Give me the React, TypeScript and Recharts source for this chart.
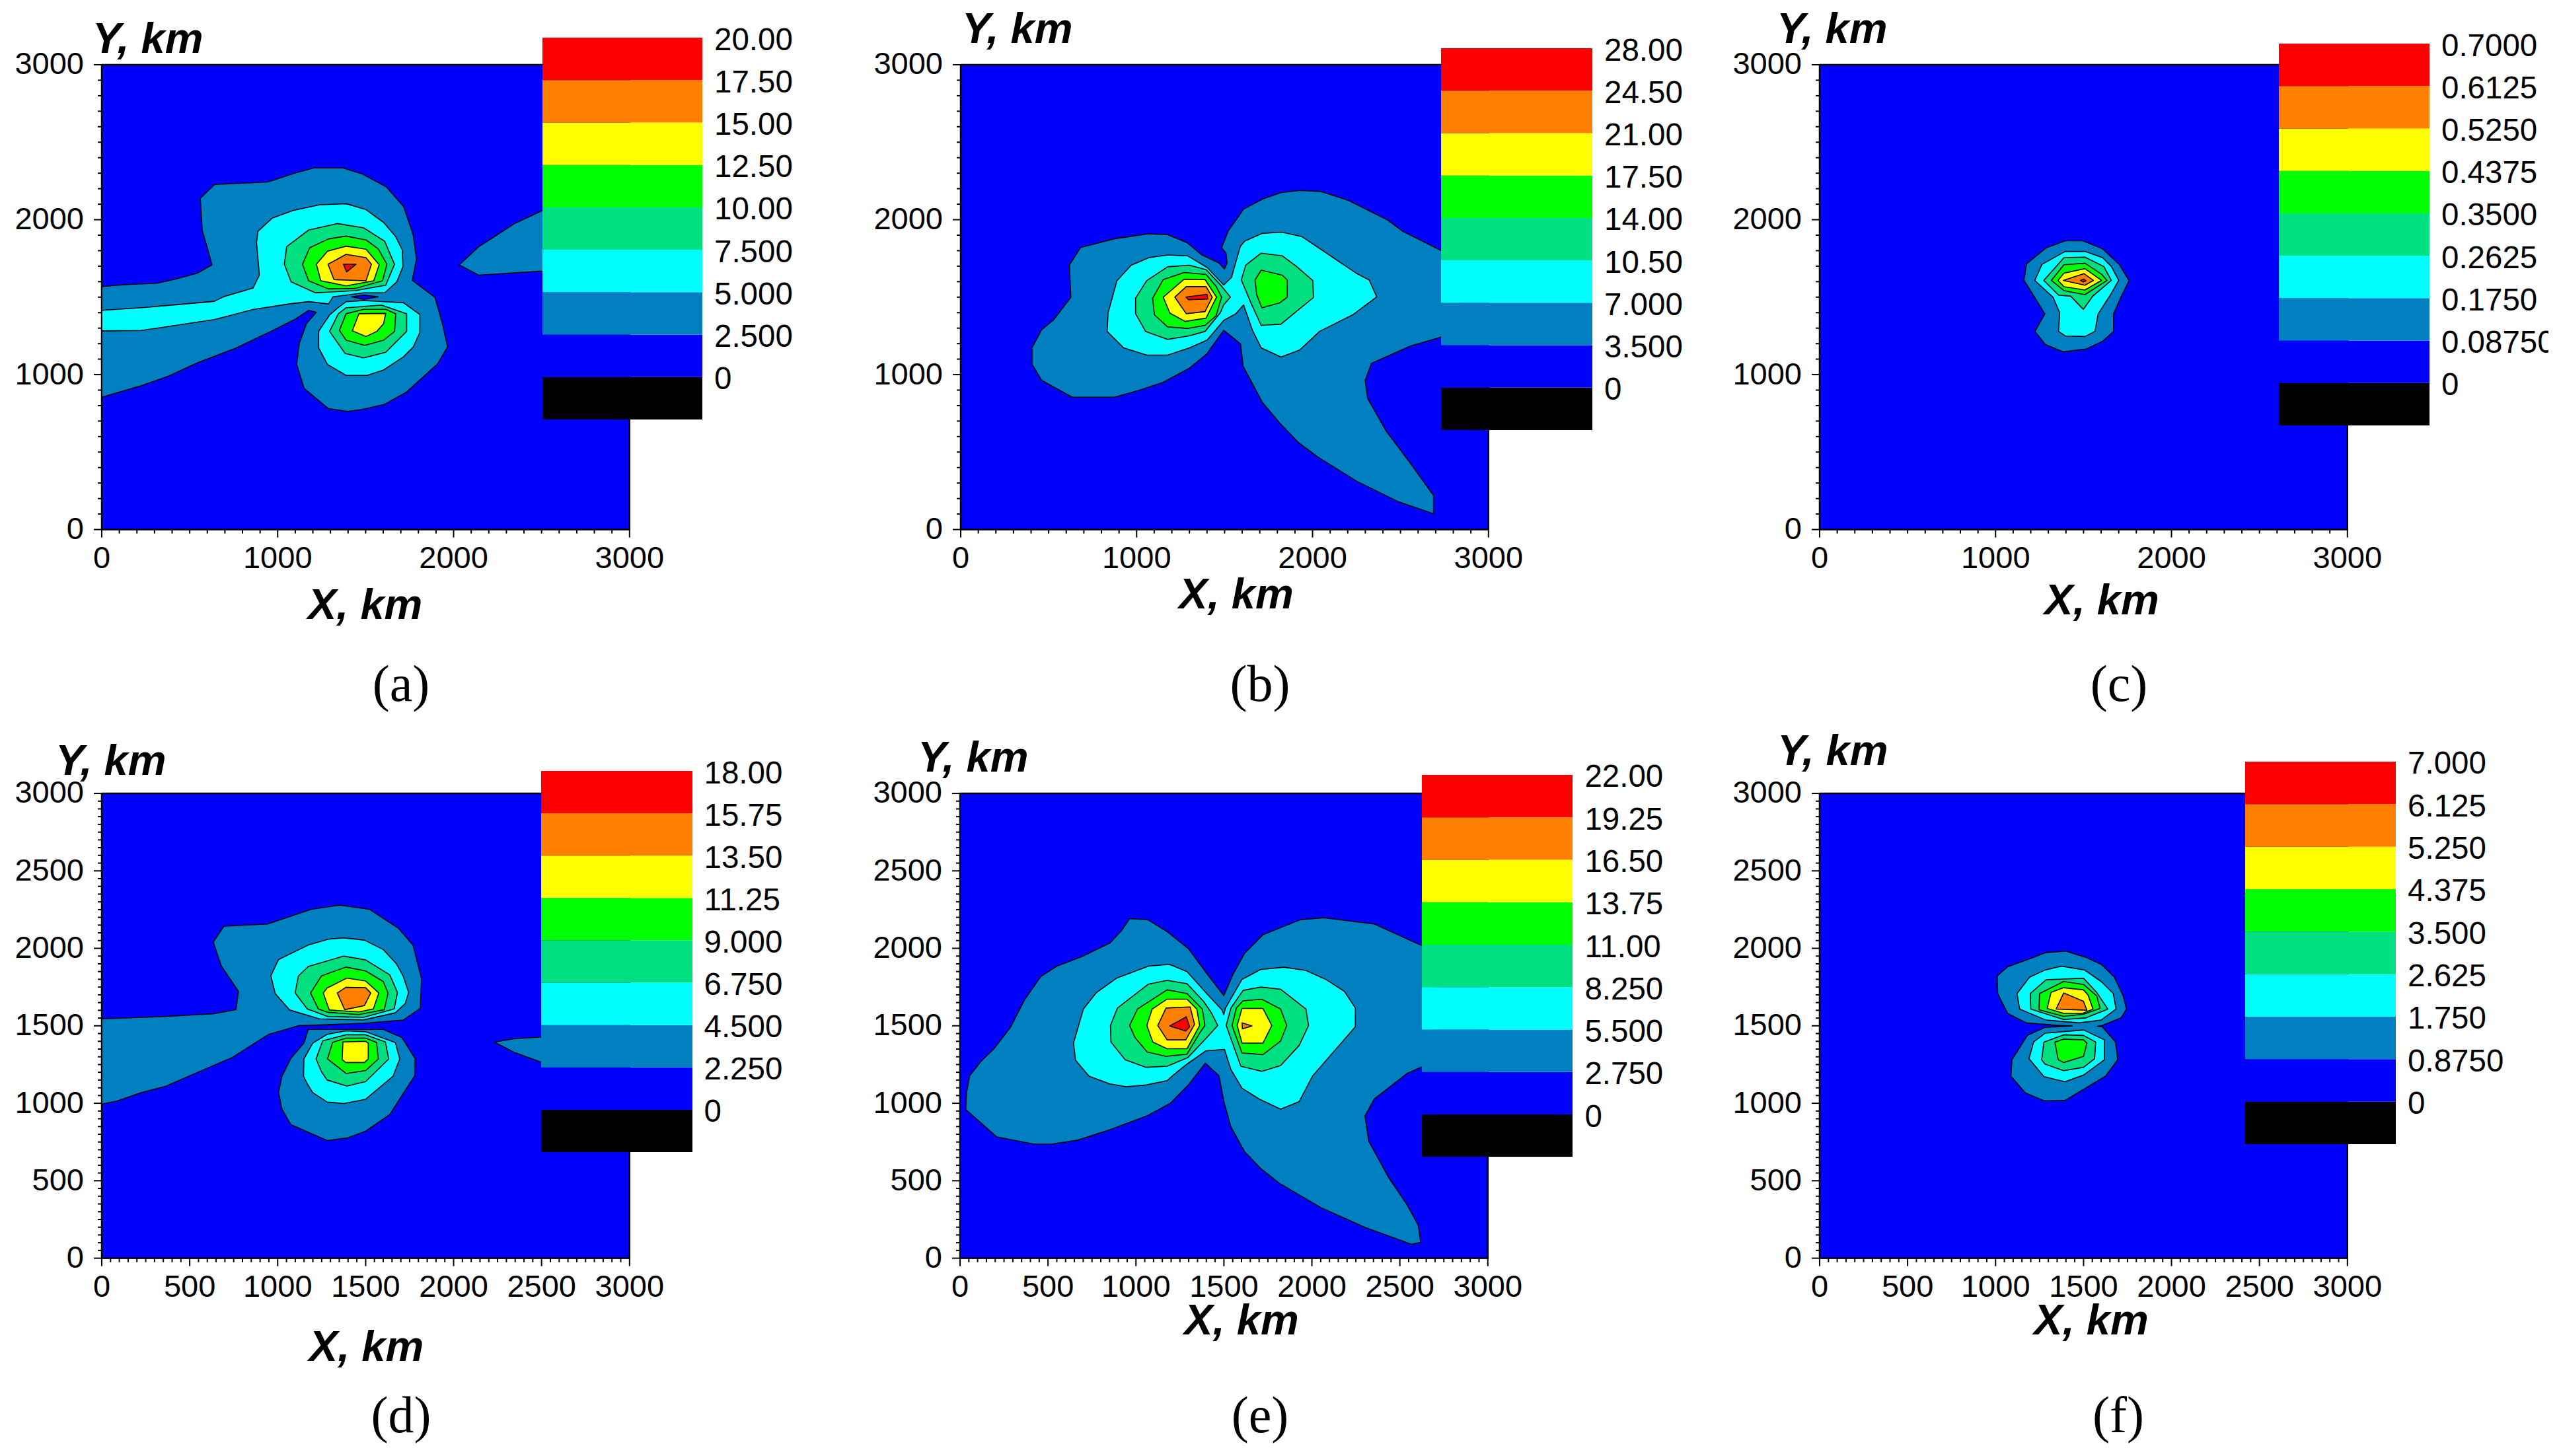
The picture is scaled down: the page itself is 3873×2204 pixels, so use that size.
import React from "react";
import { ScatterChart, Scatter, XAxis, YAxis, BarChart, Bar } from "recharts";

type Pt = [number, number];

const BAND_COLORS = ["#0000FF", "#0080C0", "#00FFFF", "#00E080", "#00FF00", "#FFFF00", "#FF8000", "#FF0000"];
const FONT = "'Liberation Sans', Arial, sans-serif";
const DOMAIN: Pt[] = [[0, 0], [3000, 0], [3000, 3000], [0, 3000]];

const TICKS_100 = Array.from({ length: 31 }, (_, i) => i * 100);
const TICKS_50 = Array.from({ length: 61 }, (_, i) => i * 50);
const MAJOR_1000 = [0, 1000, 2000, 3000];
const MAJOR_500 = [0, 500, 1000, 1500, 2000, 2500, 3000];

// colour scales
const aLevels = [0, 2.5, 5, 7.5, 10, 12.5, 15, 17.5, 20];
const aLabels = ["0", "2.500", "5.000", "7.500", "10.00", "12.50", "15.00", "17.50", "20.00"];
const bLevels = [0, 3.5, 7, 10.5, 14, 17.5, 21, 24.5, 28];
const bLabels = ["0", "3.500", "7.000", "10.50", "14.00", "17.50", "21.00", "24.50", "28.00"];
const cLevels = [0, 0.0875, 0.175, 0.2625, 0.35, 0.4375, 0.525, 0.6125, 0.7];
const cLabels = ["0", "0.08750", "0.1750", "0.2625", "0.3500", "0.4375", "0.5250", "0.6125", "0.7000"];
const dLevels = [0, 2.25, 4.5, 6.75, 9, 11.25, 13.5, 15.75, 18];
const dLabels = ["0", "2.250", "4.500", "6.750", "9.000", "11.25", "13.50", "15.75", "18.00"];
const eLevels = [0, 2.75, 5.5, 8.25, 11, 13.75, 16.5, 19.25, 22];
const eLabels = ["0", "2.750", "5.500", "8.250", "11.00", "13.75", "16.50", "19.25", "22.00"];
const fLevels = [0, 0.875, 1.75, 2.625, 3.5, 4.375, 5.25, 6.125, 7];
const fLabels = ["0", "0.8750", "1.750", "2.625", "3.500", "4.375", "5.250", "6.125", "7.000"];

// panel (a) contours, km
const aBand1: Pt[] = [[0,1569],[157,1582],[314,1590],[419,1616],[543,1655],[626,1708],[598,1825],[571,1930],[560,2138],[642,2227],[943,2243],[1095,2300],[1205,2334],[1370,2334],[1481,2295],[1618,2211],[1715,2086],[1770,1903],[1789,1747],[1765,1608],[1894,1499],[1936,1329],[1966,1180],[1908,1068],[1729,885],[1605,807],[1481,775],[1398,762],[1287,781],[1150,911],[1108,1068],[1122,1198],[1163,1329],[1219,1402],[1177,1415],[1095,1355],[957,1277],[764,1172],[543,1076],[378,990],[212,924],[0,854]];
const aBand1Right: Pt[] = [[2032,1708],[2142,1825],[2349,1977],[2506,2060],[2528,2060],[2528,1674],[2506,1668],[2142,1642]];
const aCyanUpper: Pt[] = [[0,1415],[240,1433],[640,1473],[695,1504],[860,1559],[896,1642],[880,1851],[888,1925],[970,2011],[1089,2060],[1239,2096],[1389,2103],[1502,2065],[1602,1982],[1671,1890],[1708,1805],[1712,1698],[1677,1599],[1608,1528],[1489,1528],[1314,1502],[1289,1456],[1176,1471],[1063,1456],[860,1420],[640,1355],[226,1285],[0,1282]];
const aLens: Pt[] = [[1420,1502],[1489,1513],[1571,1502],[1489,1485]];
const aCyanLower: Pt[] = [[1389,1471],[1489,1478],[1715,1464],[1808,1388],[1808,1272],[1771,1179],[1715,1115],[1602,1030],[1508,995],[1389,995],[1283,1066],[1233,1172],[1233,1279],[1295,1385],[1339,1428]];
const aSeaUpper: Pt[] = [[1038,1712],[1051,1826],[1176,1933],[1339,1975],[1489,1947],[1608,1861],[1664,1712],[1614,1577],[1439,1542],[1214,1528],[1076,1599]];
const aGreenUpper: Pt[] = [[1141,1712],[1182,1819],[1289,1876],[1389,1894],[1502,1869],[1571,1812],[1621,1712],[1596,1606],[1439,1556],[1289,1553],[1176,1606]];
const aYellowUpper: Pt[] = [[1220,1712],[1283,1797],[1389,1829],[1502,1809],[1577,1709],[1546,1606],[1389,1573],[1245,1606]];
const aOrange: Pt[] = [[1286,1712],[1389,1776],[1502,1755],[1533,1712],[1502,1606],[1320,1613]];
const aRed: Pt[] = [[1374,1712],[1445,1712],[1392,1663]];
const aSeaLower: Pt[] = [[1295,1279],[1345,1393],[1389,1431],[1589,1449],[1733,1393],[1733,1279],[1614,1144],[1489,1108],[1383,1137]];
const aGreenLower: Pt[] = [[1351,1286],[1389,1393],[1489,1421],[1614,1421],[1671,1393],[1664,1279],[1602,1222],[1495,1189],[1389,1222]];
const aYellowLower: Pt[] = [[1424,1283],[1462,1393],[1614,1395],[1602,1329],[1564,1279],[1502,1246]];

// panel (b)
const bBand1: Pt[] = [[405,1172],[460,1290],[529,1355],[626,1499],[618,1708],[681,1820],[874,1877],[1067,1909],[1177,1903],[1287,1851],[1370,1773],[1467,1721],[1499,1682],[1514,1720],[1508,1784],[1483,1819],[1520,1926],[1608,2068],[1714,2132],[1821,2175],[1927,2189],[2046,2182],[2203,2125],[2428,1997],[2514,1924],[2735,1799],[2831,1747],[2831,1250],[2735,1243],[2556,1185],[2335,1073],[2299,963],[2313,846],[2418,637],[2556,428],[2688,219],[2688,102],[2487,180],[2252,311],[2032,467],[1922,559],[1812,689],[1715,820],[1605,1055],[1591,1198],[1495,1286],[1398,1133],[1301,1042],[1150,950],[1012,898],[874,854],[634,854],[460,963],[405,1068]];
const bCyan: Pt[] = [[832,1279],[838,1400],[888,1606],[969,1706],[1070,1755],[1176,1772],[1289,1767],[1401,1691],[1495,1578],[1539,1627],[1589,1826],[1614,1862],[1714,1912],[1827,1919],[1940,1890],[2052,1805],[2246,1656],[2322,1610],[2365,1502],[2228,1386],[2040,1279],[1927,1159],[1821,1113],[1708,1173],[1658,1287],[1608,1450],[1564,1393],[1495,1350],[1401,1223],[1301,1173],[1176,1126],[1057,1126],[926,1173]];
const bSeaLeft: Pt[] = [[994,1493],[1057,1606],[1176,1696],[1301,1706],[1395,1677],[1483,1571],[1533,1500],[1495,1450],[1476,1400],[1389,1279],[1301,1251],[1176,1227],[1051,1279],[994,1393]];
const bGreenLeft: Pt[] = [[1091,1493],[1151,1613],[1270,1659],[1395,1646],[1451,1571],[1483,1500],[1451,1379],[1389,1318],[1289,1298],[1176,1308],[1101,1386]];
const bYellow: Pt[] = [[1151,1500],[1270,1616],[1389,1613],[1454,1500],[1395,1365],[1276,1343],[1189,1397]];
const bOrange: Pt[] = [[1217,1500],[1282,1568],[1395,1568],[1430,1500],[1389,1407],[1282,1393]];
const bRed: Pt[] = [[1280,1500],[1401,1518],[1404,1488],[1295,1483]];
const bSeaRight: Pt[] = [[1595,1611],[1620,1706],[1708,1784],[1827,1767],[1908,1699],[2002,1606],[2005,1497],[1915,1414],[1821,1326],[1708,1318],[1652,1457]];
const bGreenRight: Pt[] = [[1673,1611],[1708,1674],[1827,1642],[1856,1611],[1856,1500],[1815,1464],[1712,1431],[1683,1514]];

// panel (c)
const cBand1: Pt[] = [[1161,1610],[1176,1715],[1289,1819],[1396,1864],[1496,1864],[1608,1812],[1702,1712],[1759,1606],[1715,1506],[1671,1392],[1671,1279],[1608,1215],[1514,1165],[1383,1147],[1283,1194],[1224,1279],[1280,1392],[1214,1513]];
const cCyan: Pt[] = [[1223,1608],[1264,1712],[1396,1795],[1508,1795],[1608,1755],[1658,1698],[1700,1608],[1652,1513],[1583,1392],[1565,1279],[1508,1246],[1396,1250],[1358,1279],[1364,1400],[1327,1499]];
const cSea: Pt[] = [[1274,1608],[1389,1755],[1508,1758],[1615,1698],[1658,1608],[1552,1506],[1499,1421],[1427,1506],[1358,1513]];
const cGreen: Pt[] = [[1317,1608],[1389,1709],[1508,1719],[1602,1648],[1633,1608],[1508,1516],[1389,1542]];
const cYellow: Pt[] = [[1355,1608],[1389,1655],[1508,1684],[1602,1608],[1508,1546],[1389,1567]];
const cOrange: Pt[] = [[1385,1608],[1502,1652],[1556,1608],[1508,1577]];
const cRed: Pt[] = [[1483,1608],[1499,1617],[1514,1606],[1499,1598]];

// panel (d)
const dBand1: Pt[] = [[0,1545],[336,1559],[639,1578],[763,1605],[777,1722],[680,1885],[634,2040],[694,2143],[942,2157],[1190,2252],[1355,2279],[1521,2252],[1686,2130],[1769,2021],[1818,1803],[1810,1613],[1714,1537],[1487,1516],[1237,1505],[1124,1502],[949,1445],[736,1292],[639,1246],[364,1110],[226,1069],[88,1015],[0,995]];
const dBand1Lower: Pt[] = [[1174,1477],[1600,1477],[1706,1424],[1781,1289],[1779,1178],[1713,1062],[1637,927],[1500,820],[1400,777],[1281,759],[1074,863],[1024,962],[1005,1069],[1024,1175],[1074,1289],[1149,1388]];
const dBand1Right: Pt[] = [[2232,1395],[2347,1417],[2499,1428],[2540,1428],[2540,1259],[2499,1265],[2347,1327]];
const dCyanUpper: Pt[] = [[961,1822],[1005,1928],[1174,2021],[1287,2059],[1375,2068],[1493,2053],[1600,1992],[1675,1900],[1713,1822],[1744,1715],[1725,1644],[1669,1584],[1487,1538],[1237,1545],[1068,1602],[986,1708]];
const dSeaUpper: Pt[] = [[1099,1712],[1118,1822],[1174,1883],[1375,1950],[1500,1925],[1637,1829],[1681,1715],[1662,1609],[1487,1555],[1287,1559],[1168,1609]];
const dGreenUpper: Pt[] = [[1187,1712],[1249,1822],[1387,1879],[1500,1854],[1600,1786],[1627,1712],[1606,1604],[1462,1573],[1287,1587],[1231,1609]];
const dYellowUpper: Pt[] = [[1259,1712],[1281,1744],[1393,1808],[1500,1789],[1575,1712],[1544,1609],[1462,1590],[1293,1602]];
const dOrange: Pt[] = [[1339,1712],[1387,1748],[1500,1746],[1529,1712],[1493,1630],[1381,1604]];
const dCyanLower: Pt[] = [[1149,1286],[1199,1388],[1281,1445],[1387,1467],[1500,1462],[1669,1391],[1694,1286],[1656,1175],[1500,1026],[1375,998],[1281,1008],[1199,1069],[1168,1126],[1147,1175]];
const dSeaLower: Pt[] = [[1218,1286],[1256,1403],[1387,1442],[1500,1442],[1612,1396],[1631,1286],[1500,1140],[1393,1111],[1281,1150],[1249,1204]];
const dGreenLower: Pt[] = [[1283,1286],[1312,1393],[1387,1420],[1500,1420],[1562,1393],[1572,1286],[1500,1211],[1390,1192]];
const dYellowLower: Pt[] = [[1366,1282],[1371,1396],[1500,1400],[1515,1388],[1515,1286],[1493,1263],[1387,1263]];

// panel (e)
const eBand1: Pt[] = [[32,960],[37,1069],[55,1178],[121,1273],[195,1355],[287,1491],[366,1667],[458,1817],[550,1885],[695,1948],[853,2035],[919,2116],[964,2192],[1069,2184],[1183,2103],[1301,1994],[1407,1831],[1499,1695],[1551,1831],[1617,1967],[1723,2089],[1933,2184],[2065,2198],[2355,2157],[2618,2021],[2697,1994],[2697,1246],[2618,1232],[2539,1191],[2355,1028],[2302,919],[2323,756],[2434,525],[2539,348],[2605,212],[2618,103],[2566,90],[2302,199],[2052,326],[1815,484],[1709,579],[1617,688],[1538,851],[1499,1015],[1472,1178],[1394,1259],[1301,1123],[1196,1001],[1064,919],[853,830],[669,762],[524,737],[419,737],[208,783]];
const eCyan: Pt[] = [[645,1388],[701,1608],[776,1715],[889,1807],[1071,1885],[1190,1897],[1290,1850],[1402,1708],[1490,1601],[1499,1573],[1509,1615],[1603,1800],[1709,1864],[1841,1878],[1966,1857],[2078,1800],[2185,1722],[2247,1615],[2247,1494],[2003,1175],[1928,1011],[1822,962],[1703,1026],[1603,1097],[1540,1217],[1503,1348],[1396,1338],[1290,1253],[1208,1178],[1177,1146],[1058,1118],[945,1107],[851,1125],[733,1175],[657,1277]];
const eSeaLeft: Pt[] = [[855,1502],[895,1615],[1071,1769],[1177,1793],[1290,1772],[1384,1658],[1427,1587],[1465,1502],[1396,1416],[1296,1296],[1177,1239],[1058,1232],[939,1281],[858,1395]];
const eGreenLeft: Pt[] = [[964,1502],[1008,1608],[1177,1732],[1290,1708],[1377,1608],[1392,1502],[1365,1459],[1290,1317],[1171,1303],[1064,1331],[995,1423]];
const eYellowLeft: Pt[] = [[1062,1502],[1092,1608],[1177,1672],[1290,1672],[1346,1608],[1362,1502],[1290,1352],[1177,1352],[1096,1395]];
const eOrangeLeft: Pt[] = [[1124,1502],[1171,1615],[1308,1622],[1333,1509],[1283,1409],[1177,1409]];
const eRed: Pt[] = [[1192,1499],[1286,1558],[1305,1494],[1283,1466]];
const eSeaRight: Pt[] = [[1513,1502],[1540,1615],[1609,1729],[1709,1750],[1822,1736],[1966,1608],[1981,1502],[1928,1374],[1822,1243],[1715,1206],[1596,1239]];
const eGreenRight: Pt[] = [[1546,1502],[1571,1615],[1609,1661],[1715,1672],[1822,1608],[1857,1502],[1822,1402],[1722,1314],[1603,1324]];
const eYellowRight: Pt[] = [[1575,1502],[1603,1612],[1722,1612],[1772,1502],[1722,1388],[1603,1388]];
const eOrangeRight: Pt[] = [[1603,1519],[1659,1499],[1605,1480]];

// panel (f)
const fBand1: Pt[] = [[1009,1821],[1068,1881],[1200,1935],[1287,1973],[1400,1982],[1513,1942],[1600,1897],[1675,1814],[1725,1693],[1744,1608],[1713,1551],[1606,1502],[1578,1497],[1606,1494],[1682,1395],[1694,1281],[1625,1175],[1500,1090],[1394,1018],[1275,1016],[1168,1068],[1087,1175],[1093,1281],[1181,1438],[1281,1490],[1437,1499],[1337,1504],[1175,1519],[1068,1580],[1012,1708]];
const fCyanUpper: Pt[] = [[1122,1708],[1193,1814],[1281,1860],[1375,1885],[1506,1860],[1600,1786],[1669,1708],[1685,1608],[1600,1537],[1475,1519],[1287,1537],[1137,1608]];
const fSeaUpper: Pt[] = [[1197,1708],[1287,1797],[1500,1807],[1575,1715],[1638,1608],[1513,1551],[1387,1541],[1200,1608]];
const fGreenUpper: Pt[] = [[1250,1708],[1387,1786],[1500,1767],[1575,1693],[1594,1612],[1500,1575],[1387,1561],[1247,1604]];
const fYellow: Pt[] = [[1315,1715],[1387,1746],[1500,1732],[1525,1700],[1554,1608],[1494,1580],[1387,1580],[1293,1612]];
const fOrange: Pt[] = [[1387,1712],[1500,1658],[1519,1601],[1344,1608]];
const fCyanLower: Pt[] = [[1190,1288],[1216,1395],[1281,1452],[1500,1473],[1619,1409],[1619,1281],[1500,1182],[1394,1139],[1275,1172]];
const fSeaLower: Pt[] = [[1262,1281],[1275,1395],[1387,1442],[1500,1438],[1569,1395],[1563,1288],[1500,1232],[1387,1210],[1281,1253]];
const fGreenLower: Pt[] = [[1337,1395],[1387,1414],[1500,1409],[1519,1388],[1500,1303],[1387,1263],[1356,1281]];

const panels = [
  {
    name: "(a)", frame: [153.6, 98], bar: [820.5, 57, 242, 578], labels: aLabels, levels: aLevels,
    ticks: TICKS_100, major: MAJOR_1000, xTitle: [552.7, 915], yTitle: [140, 58], caption: [607, 1035],
    contours: [[1, aBand1], [1, aBand1Right], [2, aCyanUpper], [0, aLens], [2, aCyanLower], [3, aSeaUpper], [4, aGreenUpper], [5, aYellowUpper], [6, aOrange], [7, aRed], [3, aSeaLower], [4, aGreenLower], [5, aYellowLower]],
  },
  {
    name: "(b)", frame: [1453.6, 98], bar: [2181.4, 73, 229, 578], labels: bLabels, levels: bLevels,
    ticks: TICKS_100, major: MAJOR_1000, xTitle: [1871, 899], yTitle: [1456, 43], caption: [1907, 1035],
    contours: [[1, bBand1], [2, bCyan], [3, bSeaLeft], [4, bGreenLeft], [5, bYellow], [6, bOrange], [7, bRed], [3, bSeaRight], [4, bGreenRight]],
  },
  {
    name: "(c)", frame: [2753.6, 98], bar: [3449, 66, 228, 578], labels: cLabels, levels: cLevels,
    ticks: TICKS_100, major: MAJOR_1000, xTitle: [3181, 908], yTitle: [2689, 43], caption: [3207, 1035],
    contours: [[1, cBand1], [2, cCyan], [3, cSea], [4, cGreen], [5, cYellow], [6, cOrange], [7, cRed]],
  },
  {
    name: "(d)", frame: [153.9, 1201], bar: [819, 1167, 228.5, 577], labels: dLabels, levels: dLevels,
    ticks: TICKS_50, major: MAJOR_500, xTitle: [554.5, 2038], yTitle: [84, 1151], caption: [607, 2142],
    contours: [[1, dBand1], [1, dBand1Lower], [1, dBand1Right], [2, dCyanUpper], [3, dSeaUpper], [4, dGreenUpper], [5, dYellowUpper], [6, dOrange], [2, dCyanLower], [3, dSeaLower], [4, dGreenLower], [5, dYellowLower]],
  },
  {
    name: "(e)", frame: [1453.3, 1201], bar: [2151.6, 1172.7, 228.4, 578.3], labels: eLabels, levels: eLevels,
    ticks: TICKS_50, major: MAJOR_500, xTitle: [1879, 1998], yTitle: [1389, 1146], caption: [1907, 2142],
    contours: [[1, eBand1], [2, eCyan], [3, eSeaLeft], [4, eGreenLeft], [5, eYellowLeft], [6, eOrangeLeft], [7, eRed], [3, eSeaRight], [4, eGreenRight], [5, eYellowRight], [6, eOrangeRight]],
  },
  {
    name: "(f)", frame: [2753.9, 1201], bar: [3397.9, 1153, 228.1, 579], labels: fLabels, levels: fLevels,
    ticks: TICKS_50, major: MAJOR_500, xTitle: [3165, 1998], yTitle: [2690, 1136], caption: [3206, 2142],
    contours: [[1, fBand1], [2, fCyanUpper], [3, fSeaUpper], [4, fGreenUpper], [5, fYellow], [6, fOrange], [2, fCyanLower], [3, fSeaLower], [4, fGreenLower]],
  },
];

const PLOT_W = 798.8;
const PLOT_H = 703.6;
const LEFT = 140;
const TOP = 40;
const RIGHT = 70;
const BOTTOM = 75;

const contourLine = (fill: string, strokeWidth: number) => (props: any) => (
  <polygon
    points={props.points.map((p: any) => `${p.x},${p.y}`).join(" ")}
    fill={fill}
    stroke="#000"
    strokeWidth={strokeWidth}
    strokeLinejoin="round"
  />
);

const xTick = (major: number[]) => ({ x, y, payload }: any) => {
  const isMajor = major.includes(payload.value);
  return (
    <g>
      <line x1={x} x2={x} y1={y} y2={y + (isMajor ? 12 : 6)} stroke="#000" strokeWidth={2} />
      {isMajor && (
        <text x={x} y={y + 42} textAnchor="middle" dominantBaseline="central" fontSize={47} fontFamily={FONT} fill="#000">
          {payload.value}
        </text>
      )}
    </g>
  );
};

const yTick = (major: number[]) => ({ x, y, payload }: any) => {
  const isMajor = major.includes(payload.value);
  return (
    <g>
      <line x1={x} x2={x - (isMajor ? 12 : 6)} y1={y} y2={y} stroke="#000" strokeWidth={2} />
      {isMajor && (
        <text x={x - 27} y={y - 2} textAnchor="end" dominantBaseline="central" fontSize={47} fontFamily={FONT} fill="#000">
          {payload.value}
        </text>
      )}
    </g>
  );
};

const Panel = ({ p }: { p: any }) => (
  <div style={{ position: "absolute", left: p.frame[0] - LEFT, top: p.frame[1] - TOP }}>
    <ScatterChart width={LEFT + PLOT_W + RIGHT} height={TOP + PLOT_H + BOTTOM} margin={{ top: TOP, right: RIGHT, left: 0, bottom: 0 }}>
      <XAxis
        type="number"
        dataKey="x"
        domain={[0, 3000]}
        ticks={p.ticks}
        interval={0}
        height={BOTTOM}
        tickSize={0}
        tickMargin={0}
        tickLine={false}
        axisLine={{ stroke: "#000", strokeWidth: 2 }}
        tick={xTick(p.major)}
      />
      <YAxis
        type="number"
        dataKey="y"
        domain={[0, 3000]}
        ticks={p.ticks}
        interval={0}
        width={LEFT}
        tickSize={0}
        tickMargin={0}
        tickLine={false}
        axisLine={{ stroke: "#000", strokeWidth: 2 }}
        tick={yTick(p.major)}
      />
      <Scatter
        data={DOMAIN.map(([x, y]) => ({ x, y }))}
        line={contourLine(BAND_COLORS[0], 2.5)}
        shape={() => <g />}
        isAnimationActive={false}
      />
      {p.contours.map(([band, pts]: any, i: number) => (
        <Scatter
          key={i}
          data={pts.map(([x, y]: Pt) => ({ x, y }))}
          line={contourLine(BAND_COLORS[band], 1.6)}
          shape={() => <g />}
          isAnimationActive={false}
        />
      ))}
    </ScatterChart>
  </div>
);

const ColorBar = ({ p }: { p: any }) => {
  const [bx, by, bw, bh] = p.bar;
  const step = p.levels[1];
  const row: any = { name: "scale", below: -step };
  BAND_COLORS.forEach((_, i) => {
    row[`band${i}`] = step;
  });
  const pad = 40;
  return (
    <div style={{ position: "absolute", left: bx, top: by - pad }}>
      <BarChart
        width={bw + 220}
        height={bh + pad * 2}
        data={[row]}
        stackOffset="sign"
        barCategoryGap={0}
        margin={{ top: pad, right: 0, left: 0, bottom: pad }}
      >
        <XAxis dataKey="name" hide />
        <YAxis
          type="number"
          orientation="right"
          domain={[-step, p.levels[8]]}
          ticks={p.levels}
          interval={0}
          allowDataOverflow
          width={220}
          tickSize={0}
          tickMargin={0}
          tickLine={false}
          axisLine={false}
          tick={({ x, y, index }: any) => (
            <text x={x + 18} y={y + 2} textAnchor="start" dominantBaseline="central" fontSize={47.5} fontFamily={FONT} fill="#000">
              {p.labels[index]}
            </text>
          )}
        />
        <Bar dataKey="below" stackId="s" fill="#000" isAnimationActive={false} />
        {BAND_COLORS.map((c, i) => (
          <Bar key={c} dataKey={`band${i}`} stackId="s" fill={c} isAnimationActive={false} />
        ))}
      </BarChart>
    </div>
  );
};

const titleStyle: React.CSSProperties = {
  position: "absolute",
  fontFamily: FONT,
  fontWeight: "bold",
  fontStyle: "italic",
  fontSize: 65,
  lineHeight: "52px",
  whiteSpace: "nowrap",
};

const App = () => (
  <div style={{ position: "absolute", left: 0, top: 0, width: 3857, height: 2204, overflow: "hidden", background: "#fff" }}>
    {panels.map((p) => (
      <React.Fragment key={p.name}>
        <Panel p={p} />
        <ColorBar p={p} />
        <div style={{ ...titleStyle, left: p.xTitle[0], top: p.xTitle[1] - 26, transform: "translateX(-50%)" }}>X, km</div>
        <div style={{ ...titleStyle, left: p.yTitle[0], top: p.yTitle[1] - 26 }}>Y, km</div>
        <div
          style={{
            position: "absolute",
            left: p.caption[0],
            top: p.caption[1] - 40,
            transform: "translateX(-50%)",
            fontFamily: "'Liberation Serif', serif",
            fontSize: 78,
            lineHeight: "80px",
          }}
        >
          {p.name}
        </div>
      </React.Fragment>
    ))}
  </div>
);

export default App;
